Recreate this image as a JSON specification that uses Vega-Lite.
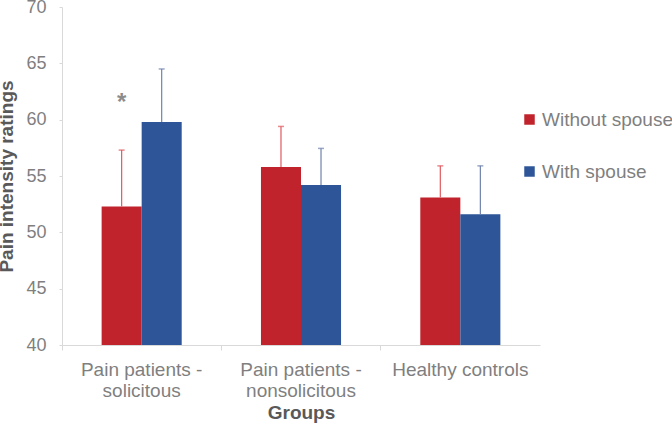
{
  "$schema": "https://vega.github.io/schema/vega-lite/v6.json",
  "width": 478,
  "height": 338,
  "autosize": "none",
  "padding": {"left": 62, "top": 7, "right": 132, "bottom": 78},
  "background": "white",
  "config": {"view": {"stroke": null}, "font": "Liberation Sans"},
  "data": {"values": [
    {"group": "Pain patients - solicitous", "condition": "Without spouse", "value": 52.3, "upper": 57.3},
    {"group": "Pain patients - solicitous", "condition": "With spouse", "value": 59.8, "upper": 64.5},
    {"group": "Pain patients - nonsolicitous", "condition": "Without spouse", "value": 55.8, "upper": 59.4},
    {"group": "Pain patients - nonsolicitous", "condition": "With spouse", "value": 54.2, "upper": 57.45},
    {"group": "Healthy controls", "condition": "Without spouse", "value": 53.1, "upper": 55.9},
    {"group": "Healthy controls", "condition": "With spouse", "value": 51.6, "upper": 55.9}
  ]},
  "encoding": {
    "x": {
      "field": "group", "type": "nominal", "sort": null,
      "scale": {"paddingInner": 0, "paddingOuter": 0},
      "axis": {
        "title": "Groups", "titleFontSize": 19, "titleFontWeight": "bold", "titleColor": "#595959", "titlePadding": 3,
        "labelAngle": 0, "labelFontSize": 19, "labelColor": "#7f7f7f", "labelPadding": 10, "labelLineHeight": 21,
        "labelExpr": "indexof(datum.value, ' - ') > 0 ? [substring(datum.value, 0, indexof(datum.value, ' - ') + 2), substring(datum.value, indexof(datum.value, ' - ') + 3)] : datum.value",
        "bandPosition": 0, "tickSize": 5, "tickColor": "#d9d9d9", "domainColor": "#d9d9d9"
      }
    },
    "xOffset": {"field": "condition", "type": "nominal", "sort": ["Without spouse", "With spouse"], "scale": {"paddingInner": 0, "paddingOuter": 0.99}}
  },
  "layer": [
    {
      "mark": {"type": "bar"},
      "encoding": {
        "y": {
          "field": "value", "type": "quantitative",
          "scale": {"domain": [40, 70], "nice": false, "zero": false},
          "axis": {
            "title": "Pain intensity ratings", "titleFontSize": 19, "titleFontWeight": "bold", "titleColor": "#595959",
            "values": [40, 45, 50, 55, 60, 65, 70], "labelFontSize": 18, "labelColor": "#7f7f7f", "labelPadding": 13,
            "grid": false, "tickSize": 3, "tickColor": "#d9d9d9", "domainColor": "#d9d9d9", "titlePadding": 9
          }
        },
        "y2": {"datum": 40},
        "color": {
          "field": "condition", "type": "nominal", "sort": ["Without spouse", "With spouse"],
          "scale": {"domain": ["Without spouse", "With spouse"], "range": ["#c0232b", "#2d5597"]},
          "legend": {
            "title": null, "orient": "none", "legendX": 458, "legendY": 103,
            "symbolType": "square", "symbolSize": 110, "symbolStrokeWidth": 0,
            "labelFontSize": 19, "labelColor": "#7f7f7f", "rowPadding": 32, "labelOffset": 3
          }
        }
      }
    },
    {
      "mark": {"type": "rule", "strokeWidth": 1.2},
      "encoding": {
        "y": {"field": "value", "type": "quantitative"},
        "y2": {"field": "upper"},
        "color": {"field": "condition", "type": "nominal", "scale": {"domain": ["Without spouse", "With spouse"], "range": ["#e05a60", "#6f82ac"]}, "legend": null}
      }
    },
    {
      "mark": {"type": "tick", "thickness": 1.5, "size": 6},
      "encoding": {
        "y": {"field": "upper", "type": "quantitative"},
        "color": {"field": "condition", "type": "nominal", "scale": {"domain": ["Without spouse", "With spouse"], "range": ["#e05a60", "#6f82ac"]}, "legend": null}
      }
    },
    {
      "data": {"values": [{"group": "Pain patients - solicitous", "condition": "Without spouse", "y": 61.5, "label": "*"}]},
      "mark": {"type": "text", "fontSize": 24, "fontWeight": "bold", "color": "#8c8c8c", "baseline": "middle"},
      "encoding": {
        "y": {"field": "y", "type": "quantitative"},
        "text": {"field": "label"}
      }
    }
  ],
  "resolve": {"scale": {"color": "independent"}}
}
